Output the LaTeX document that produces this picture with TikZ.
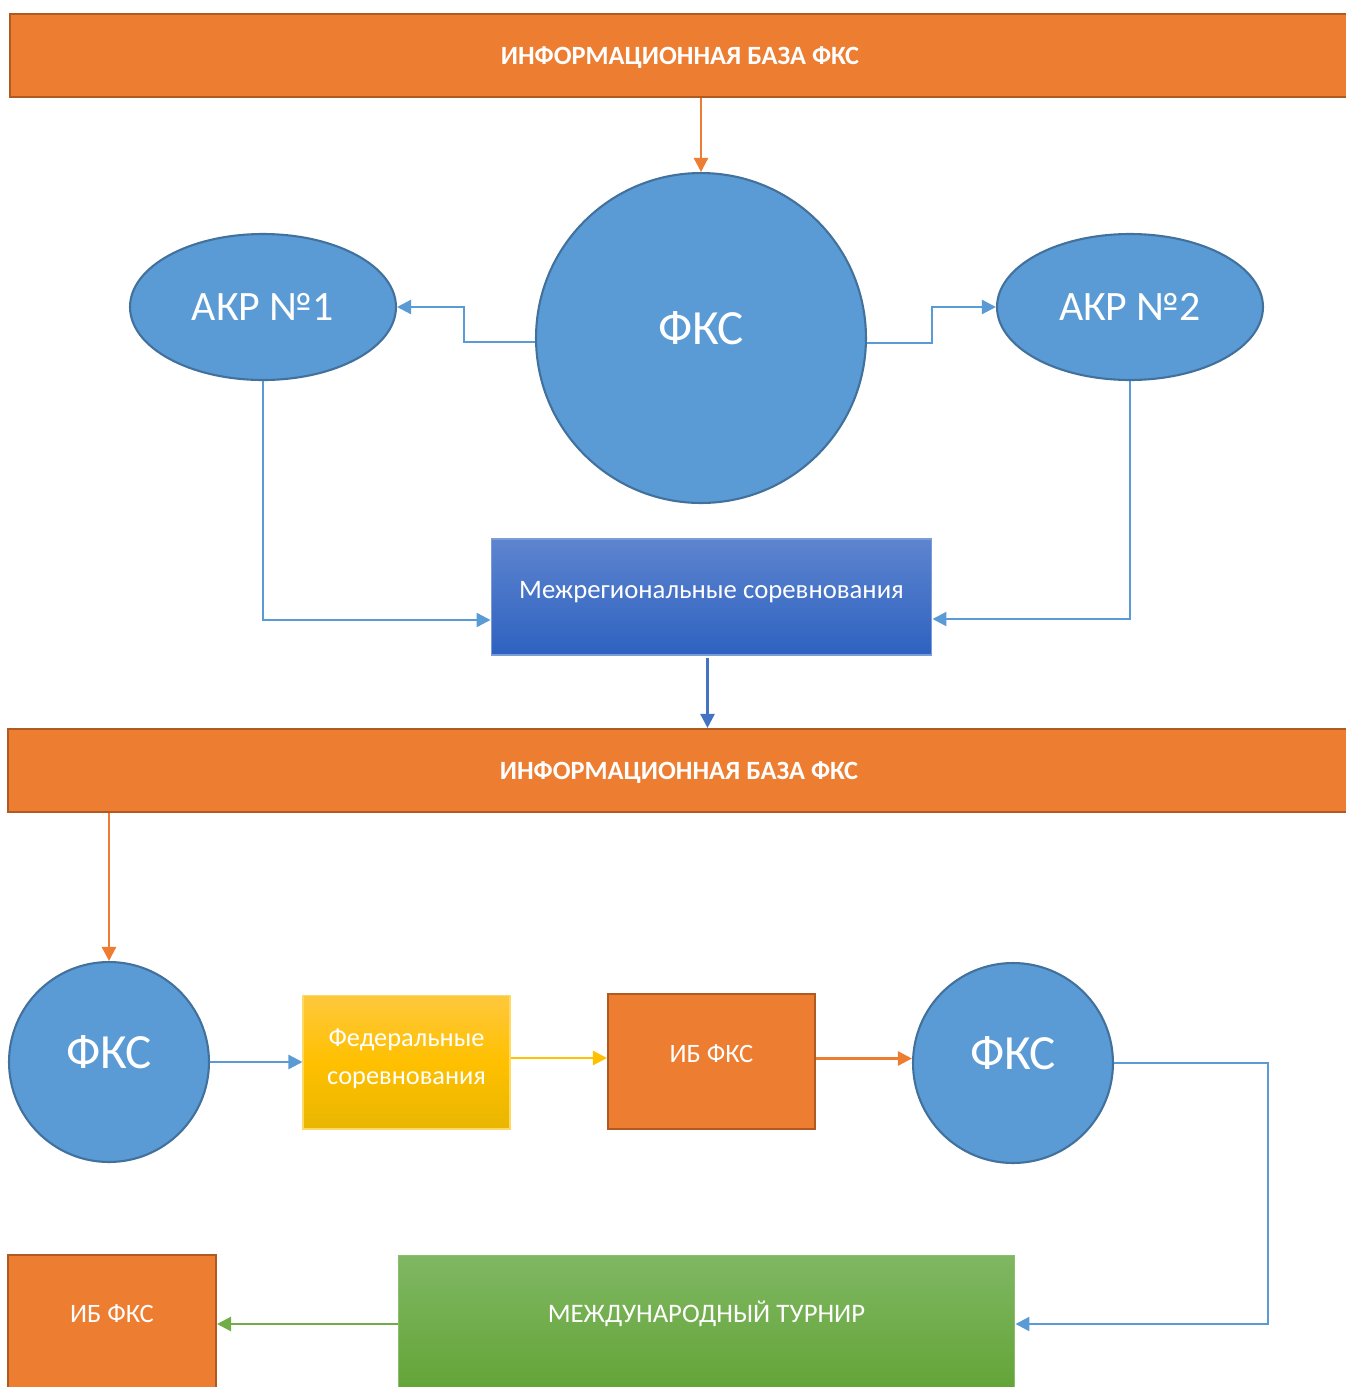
\documentclass[tikz,border=0pt]{standalone}
\usepackage{fontspec}
\setmainfont{Carlito}
\usetikzlibrary{arrows.meta,shapes.geometric,calc}

\definecolor{fksorange}{HTML}{ED7D31}
\definecolor{fksorangedark}{HTML}{AE5A21}
\definecolor{fksblue}{HTML}{5B9BD5}
\definecolor{fksbluedark}{HTML}{41719C}
\definecolor{fksroyal}{HTML}{4472C4}
\definecolor{fksgold}{HTML}{FFC000}
\definecolor{fksgreen}{HTML}{70AD47}
\definecolor{mregtop}{HTML}{5D84CF}
\definecolor{mregbot}{HTML}{2E62C0}
\definecolor{fedtop}{HTML}{FFC83D}
\definecolor{fedbot}{HTML}{E9B600}
\definecolor{mttop}{HTML}{80B763}
\definecolor{mtbot}{HTML}{62A436}

\newcommand{\liftup}[2]{\raisebox{#1}[\height][\depth]{#2}}

\tikzset{
  bar/.style={rectangle, draw=fksorangedark, fill=fksorange, line width=1.2pt,
    minimum height=1.66cm, text=white, font=\fontsize{15}{18}\selectfont\bfseries},
  bigcirc/.style={circle, draw=fksbluedark, fill=fksblue, line width=1.2pt,
    inner sep=0pt, text=white, font=\fontsize{28}{32}\selectfont},
  akr/.style={ellipse, draw=fksbluedark, fill=fksblue, line width=1.2pt,
    minimum width=5.32cm, minimum height=2.92cm, inner sep=0pt, text=white,
    font=\fontsize{23.8}{28}\selectfont},
  ibbox/.style={rectangle, draw=fksorangedark, fill=fksorange, line width=1.2pt,
    text=white, font=\fontsize{15.1}{19}\selectfont},
  conn/.style={line width=1.35pt, draw=fksblue, -{Triangle[length=0.28cm,width=0.28cm]}}
}

\begin{document}
\begin{tikzpicture}[x=0.02cm, y=-0.02cm]
\useasboundingbox (0,0) rectangle (1346,1387);

% top part
\node[bar, minimum width=26.8cm] (bar1) at (680,55.5) {\liftup{-1pt}{ИНФОРМАЦИОННАЯ БАЗА ФКС}};
\node[bigcirc, minimum size=6.6cm] (fks) at (701,338) {\liftup{5.5pt}{ФКС}};
\node[akr] (akr1) at (263,307) {АКР №1};
\node[akr] (akr2) at (1130,307) {АКР №2};
\node[rectangle, draw=fksroyal!70, line width=0.6pt, top color=mregtop, bottom color=mregbot,
  minimum width=8.82cm, minimum height=2.32cm, text=white,
  font=\fontsize{15.2}{19}\selectfont] (mreg) at (711.5,597) {\liftup{3pt}{Межрегиональные соревнования}};

\draw[conn, draw=fksorange] (fks.north |- bar1.south) -- (fks.north);
\draw[conn] ($(fks.west)+(0,4)$) -- ++(-71,0) |- (akr1.east);
\draw[conn] ($(fks.east)+(0,5)$) -- ++(65,0) |- (akr2.west);
\draw[conn] (akr1.south) |- ($(mreg.west)+(0,23)$);
\draw[conn] (akr2.south) |- ($(mreg.east)+(0,22)$);

% middle bar
\node[bar, minimum width=26.84cm] (bar2) at (679,770.5) {\liftup{-1pt}{ИНФОРМАЦИОННАЯ БАЗА ФКС}};
\draw[conn, draw=fksroyal] ($(mreg.south)+(-4,2)$) -- ($(mreg.south |- bar2.north)+(-4,0)$);

% bottom row
\node[bigcirc, minimum size=4cm] (fks1) at (109,1062) {\liftup{5.5pt}{ФКС}};
\node[rectangle, draw=fksgold!60, line width=0.6pt, top color=fedtop, bottom color=fedbot,
  middle color=fksgold, minimum width=4.14cm, minimum height=2.68cm, text=white,
  font=\fontsize{15}{21.5}\selectfont] (fed) at (406.5,1062)
  {\liftup{2.5pt}{\begin{tabular}{@{}c@{}}Федеральные\\соревнования\end{tabular}}};
\node[ibbox, minimum width=4.14cm, minimum height=2.7cm] (ib1) at (711.5,1061.5) {\liftup{4.5pt}{ИБ ФКС}};
\node[bigcirc, minimum size=4cm] (fks2) at (1013,1063) {\liftup{5.5pt}{ФКС}};

\draw[conn, draw=fksorange] (fks1.north |- bar2.south) -- (fks1.north);
\draw[conn] (fks1.east) -- (fks1.east -| fed.west);
\draw[conn, draw=fksgold] ($(fed.east)+(0,-4)$) -- ($(fed.east -| ib1.west)+(0,-4)$);
\draw[conn, draw=fksorange] ($(ib1.east)+(0,-3)$) -- ($(ib1.east -| fks2.west)+(0,-3)$);

% last row, cut at the bottom
\node[rectangle, draw=fksgreen!80, line width=0.6pt, top color=mttop, bottom color=mtbot,
  minimum width=12.34cm, minimum height=2.76cm] (mt) at (706.5,1324) {};
\node[text=white, font=\fontsize{15.2}{19}\selectfont] (mttext) at (706.5,1314) {МЕЖДУНАРОДНЫЙ ТУРНИР};
\node[ibbox, minimum width=4.16cm, minimum height=2.76cm] (ib2) at (112,1324) {};
\node[text=white, font=\fontsize{15.1}{19}\selectfont] (ib2text) at (112,1314) {ИБ ФКС};

\draw[conn] (fks2.east) -- ++(154,0) |- (mt.east);
\draw[conn, draw=fksgreen] (mt.west) -- (ib2.east);
\end{tikzpicture}
\end{document}
